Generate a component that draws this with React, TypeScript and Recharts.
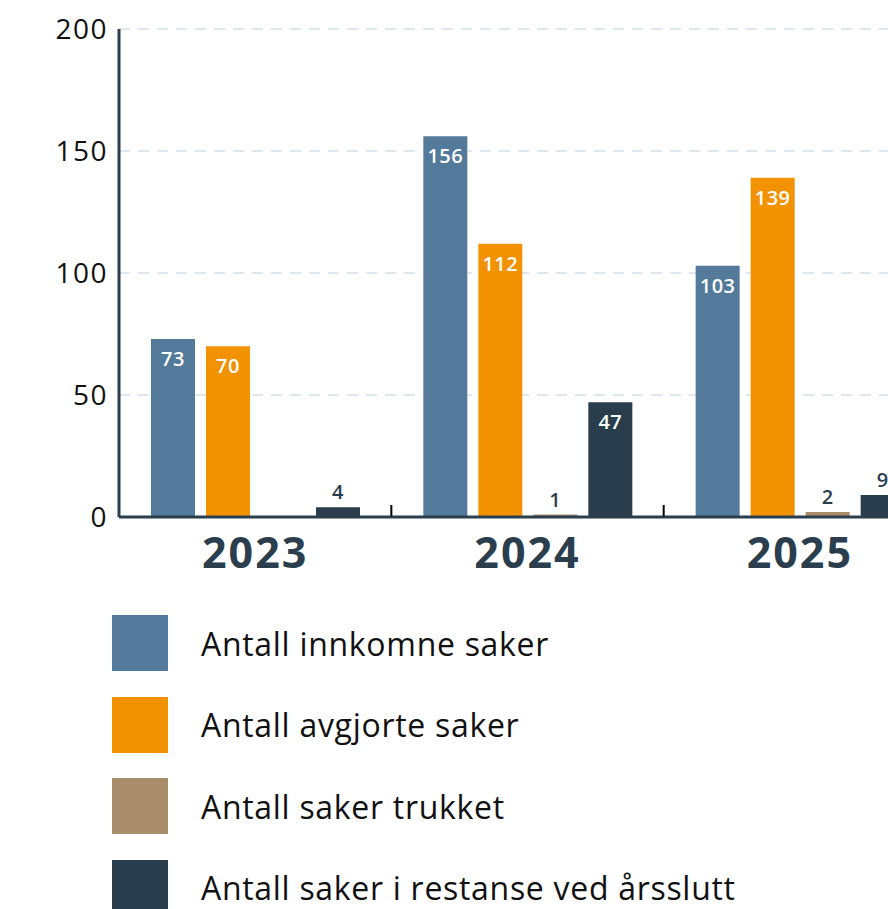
import React from 'react';
import { BarChart, Bar, XAxis, YAxis, CartesianGrid, LabelList } from 'recharts';

const years = ['2023', '2024', '2025'];
const innkomne = [73, 156, 103];
const avgjorte = [70, 112, 139];
const trukket = [0, 1, 2];
const restanse = [4, 47, 9];
const yTicks = [0, 50, 100, 150, 200];

const SERIES = [
  { key: 'innkomne', name: 'Antall innkomne saker', color: '#537a9a' },
  { key: 'avgjorte', name: 'Antall avgjorte saker', color: '#f39200' },
  { key: 'trukket', name: 'Antall saker trukket', color: '#a98c6a' },
  { key: 'restanse', name: 'Antall saker i restanse ved årsslutt', color: '#293d4d' },
];

const data = years.map((year, i) => ({
  year,
  innkomne: innkomne[i],
  avgjorte: avgjorte[i],
  trukket: trukket[i],
  restanse: restanse[i],
}));

const FONT = '"Open Sans", sans-serif';
const DARK = '#2b3e4e';
const CHART_W = 960;
const LEFT = 119;
const RIGHT = 24;
const BAND = (CHART_W - LEFT - RIGHT) / years.length;

// big bars get white label inside, small ones a dark label above
const BarLabel = (props: any) => {
  const { x, y, width, value } = props;
  if (!value) return null;
  const inside = value >= 20;
  return (
    <text
      x={x + width / 2}
      y={inside ? y + 27 : y - 8}
      textAnchor="middle"
      fill={inside ? '#fff' : DARK}
      fontSize={20}
      fontWeight={600}
      fontFamily={FONT}
      letterSpacing={0.5}
    >
      {value}
    </text>
  );
};

// year label plus a small separator mark at the left edge of each band
const YearTick = (props: any) => {
  const { x, y, payload, index } = props;
  const axisY = y - 20;
  return (
    <g>
      {index > 0 && (
        <line x1={x - BAND / 2} x2={x - BAND / 2} y1={axisY - 12} y2={axisY - 1} stroke="#000" strokeWidth={2} />
      )}
      <text
        x={x}
        y={y}
        dy="0.71em"
        textAnchor="middle"
        fill={DARK}
        fontSize={43}
        fontWeight={700}
        fontFamily={FONT}
        letterSpacing={2}
      >
        {payload.value}
      </text>
    </g>
  );
};

export default function App() {
  return (
    <div style={{ position: 'relative', width: 888, height: 909, overflow: 'hidden', fontFamily: FONT }}>
      <style>{'body{margin:0;overflow:hidden}'}</style>
      <BarChart
        width={CHART_W}
        height={600}
        data={data}
        margin={{ top: 29, right: RIGHT, left: 0, bottom: 0 }}
        barSize={44}
        barGap={11}
      >
        <CartesianGrid vertical={false} stroke="#bccfdd" strokeDasharray="11 8" />
        <XAxis
          dataKey="year"
          height={83}
          axisLine={{ stroke: DARK, strokeWidth: 3 }}
          tickLine={false}
          tickSize={0}
          tickMargin={20}
          tick={<YearTick />}
        />
        <YAxis
          width={LEFT}
          domain={[0, 200]}
          ticks={yTicks}
          axisLine={{ stroke: DARK, strokeWidth: 3 }}
          tickLine={false}
          tickMargin={5}
          tick={{ fill: '#111', fontSize: 28, fontFamily: FONT, letterSpacing: 1.5 }}
        />
        {SERIES.map((s) => (
          <Bar key={s.key} dataKey={s.key} name={s.name} fill={s.color} isAnimationActive={false}>
            <LabelList dataKey={s.key} content={<BarLabel />} />
          </Bar>
        ))}
      </BarChart>
      {SERIES.map((s, i) => (
        <div
          key={s.key}
          style={{
            position: 'absolute',
            left: 112,
            top: 615 + i * 81.5,
            height: 56,
            display: 'flex',
            alignItems: 'center',
            whiteSpace: 'nowrap',
          }}
        >
          <div style={{ width: 56, height: 56, background: s.color }} />
          <span style={{ marginLeft: 33, fontSize: 32, letterSpacing: 0.7, color: '#111' }}>{s.name}</span>
        </div>
      ))}
    </div>
  );
}
